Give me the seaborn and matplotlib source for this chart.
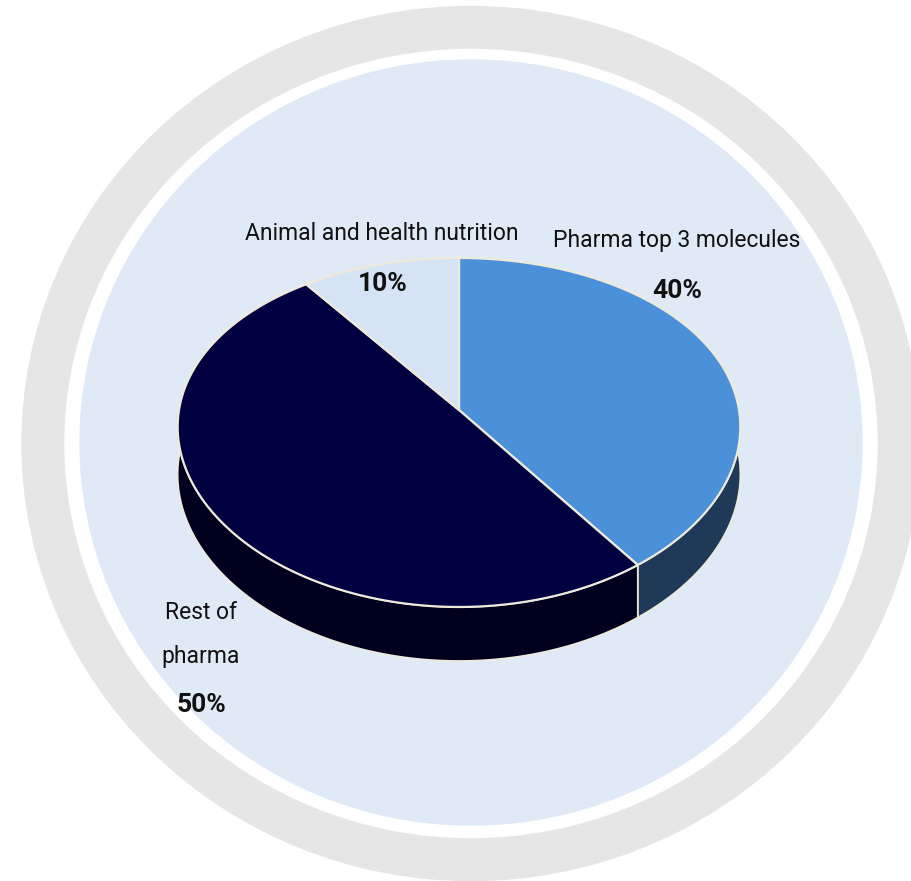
import numpy as np
import matplotlib
matplotlib.use("Agg")
import matplotlib.pyplot as plt
import seaborn as sns
from matplotlib.patches import Polygon, Ellipse

# ---- data ----
categories = ["Pharma top 3 molecules", "Rest of\npharma", "Animal and health nutrition"]
shares = [40, 50, 10]
pct_labels = [f"{v}%" for v in shares]

top_colors = ["#4A91DA", "#000040", "#D5E3F5"]
side_colors = ["#1F3A58", "#00001E", "#A9B8CC"]
edge_col = "#EEEADB"

sns.set_theme(style="white")
plt.rcParams['font.family'] = ['Roboto', 'DejaVu Sans']

fig = plt.figure(figsize=(9.12, 8.81), dpi=100)
ax = fig.add_axes([0, 0, 1, 1])
ax.set_xlim(0, 912)
ax.set_ylim(881, 0)
ax.axis('off')

# background rings
ax.add_patch(Ellipse((471, 443.5), 898, 874, color="#E6E6E6", zorder=0))
ax.add_patch(Ellipse((471, 443.5), 812, 788, color="white", zorder=0.1))
ax.add_patch(Ellipse((471, 442.5), 782, 765, color="#DFEAF6", zorder=0.2))

# perspective pie geometry
CX, CY, R, K, D, DEPTH = 459, 410, 280, 171.6, 7.76, 47


def proj(t, h=0.0):
    X, Z = np.cos(t), np.sin(t)
    s = D / (D + Z)
    return np.column_stack([CX + R * X * s ** 0.75, CY - K * Z * s + h * s])


fracs = np.array(shares) / sum(shares)
ends = np.pi / 2 - 2 * np.pi * np.cumsum(fracs)
starts = np.concatenate([[np.pi / 2], ends[:-1]])

# side walls
for st, en, sc in zip(starts, ends, side_colors):
    t = np.linspace(st, en, 200)
    top = proj(t, 0)
    bot = proj(t, DEPTH)[::-1]
    ax.add_patch(Polygon(np.vstack([top, bot]), closed=True, facecolor=sc,
                         edgecolor=edge_col, lw=1.2, zorder=2))

# top faces
for st, en, tc in zip(starts, ends, top_colors):
    t = np.linspace(st, en, 200)
    arc = proj(t, 0)
    pts = np.vstack([[CX, CY], arc])
    ax.add_patch(Polygon(pts, closed=True, facecolor=tc, edgecolor=edge_col,
                         lw=1.6, joinstyle='round', zorder=3))

# labels
fs_lab, fs_pct = 16.5, 19
tc_ = '#111111'
ax.text(677, 247, categories[0], fontsize=fs_lab, ha='center', va='baseline', color=tc_, zorder=5)
ax.text(677, 298, pct_labels[0], fontsize=fs_pct, fontweight='bold', ha='center', va='baseline', color=tc_, zorder=5)
ax.text(201, 619, categories[1].split("\n")[0], fontsize=fs_lab, ha='center', va='baseline', color=tc_, zorder=5)
ax.text(201, 663, categories[1].split("\n")[1], fontsize=fs_lab, ha='center', va='baseline', color=tc_, zorder=5)
ax.text(201, 712, pct_labels[1], fontsize=fs_pct, fontweight='bold', ha='center', va='baseline', color=tc_, zorder=5)
ax.text(382, 240, categories[2], fontsize=fs_lab, ha='center', va='baseline', color=tc_, zorder=5)
ax.text(383, 291, pct_labels[2], fontsize=fs_pct, fontweight='bold', ha='center', va='baseline', color=tc_, zorder=5)

fig.savefig("out.png", dpi=100, facecolor="white")
